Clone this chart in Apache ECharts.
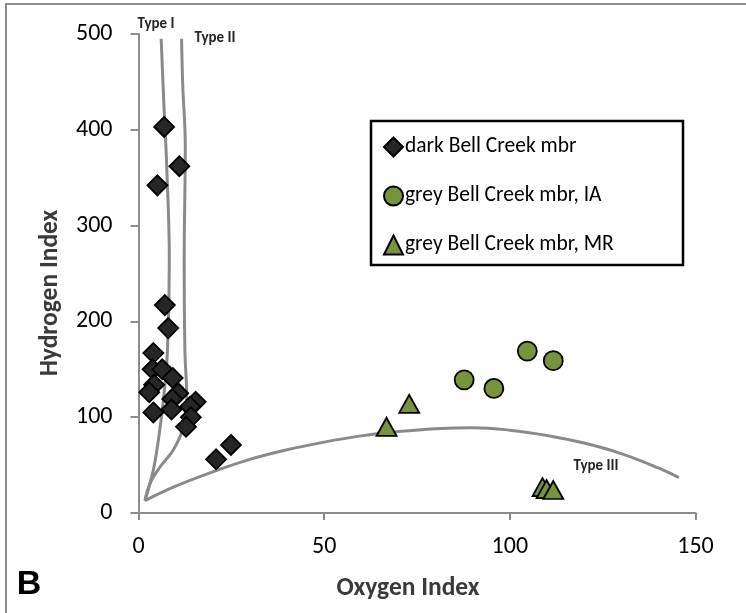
<!DOCTYPE html>
<html>
<head>
<meta charset="utf-8">
<script src="https://cdn.jsdelivr.net/npm/echarts@6/dist/echarts.min.js"></script>
<style>
  html, body { margin: 0; padding: 0; background: #fff; }
  #chart { width: 746px; height: 613px; }
</style>
</head>
<body>
<div id="chart"></div>
<script>
// Rock-Eval pyrolysis: hydrogen index vs oxygen index
const xTicks = [0, 50, 100, 150];
const yTicks = [0, 100, 200, 300, 400, 500];

const seriesNames = ['dark Bell Creek mbr', 'grey Bell Creek mbr, IA', 'grey Bell Creek mbr, MR'];

// [oxygen index, hydrogen index]
const darkBellCreek = [
  [6.9, 403], [11.0, 362], [5.1, 342], [7.1, 217], [8.0, 193],
  [4.0, 167], [3.8, 150], [6.4, 150], [9.2, 141], [4.2, 134],
  [2.9, 126], [10.7, 125], [9.1, 119], [8.9, 108], [4.0, 105],
  [15.4, 116], [13.9, 111], [14.1, 100], [12.8, 90], [24.9, 71],
  [20.9, 56]
];
const greyIA = [[87.7, 139], [95.7, 130], [104.7, 169], [111.7, 159]];
const greyMR = [[72.9, 114], [66.8, 90], [108.8, 27], [109.9, 25], [111.7, 24]];

// kerogen type reference curves
const typeI = [
  [1.75, 13], [4.0, 45], [5.6, 83], [6.7, 118], [7.8, 170],
  [8.3, 264], [7.6, 362], [6.9, 421], [6.1, 495]
];
const typeII = [
  [1.75, 13], [3.1, 31], [5.8, 48], [9.4, 66], [12.1, 90],
  [13.0, 118], [12.5, 170], [12.3, 264], [12.6, 382], [11.9, 448], [11.6, 495]
];
const typeIII = [
  [1.75, 13], [10, 28], [20, 43], [30, 56], [40, 66], [50, 74],
  [60, 80.5], [70, 85], [80, 88], [90, 89], [100, 86.5], [110, 81],
  [120, 73], [130, 62], [140, 47], [145.5, 37]
];

const FONT = 'Carlito, Lato, "Liberation Sans", sans-serif';
const AXIS_GREY = '#8c8c8c';
const CURVE_GREY = '#8a8a8a';
const GREEN = '#77933c';

const chart = echarts.init(document.getElementById('chart'), null, { renderer: 'canvas' });

function curve(name, data) {
  return {
    name: name,
    type: 'line',
    data: data,
    smooth: 0.4,
    symbol: 'none',
    silent: true,
    z: 1,
    lineStyle: { color: CURVE_GREY, width: 3 }
  };
}

function scatter(name, data, symbol, color, size) {
  return {
    name: name,
    type: 'scatter',
    data: data,
    symbol: symbol,
    symbolSize: size,
    z: 5,
    itemStyle: { color: color, borderColor: '#000', borderWidth: 1.8, opacity: 1 }
  };
}

function label(text, x, y, size) {
  return {
    type: 'text', silent: true, x: x, y: y, z: 10,
    style: {
      text: text, fontFamily: FONT, fontSize: size, fontWeight: 'bold',
      fill: '#262626', align: 'center', verticalAlign: 'middle'
    }
  };
}

function axisTitle(text, x, y, rotation) {
  return {
    type: 'text', silent: true, x: x, y: y, rotation: rotation,
    style: {
      text: text, fontFamily: FONT, fontSize: 25.5, fontWeight: 'bold',
      fill: '#3a3a3a', align: 'center', verticalAlign: 'middle'
    }
  };
}

chart.setOption({
  animation: false,
  backgroundColor: '#fff',
  grid: { left: 138.5, top: 34, width: 557, height: 479, containLabel: false },
  xAxis: {
    type: 'value',
    min: xTicks[0], max: xTicks[xTicks.length - 1], interval: 50,
    axisLine: { lineStyle: { color: AXIS_GREY, width: 2 } },
    axisTick: { show: true, inside: false, length: 7, lineStyle: { color: AXIS_GREY, width: 2 } },
    axisLabel: { margin: 22, fontFamily: FONT, fontSize: 24, color: '#000' },
    splitLine: { show: false }
  },
  yAxis: {
    type: 'value',
    min: yTicks[0], max: yTicks[yTicks.length - 1], interval: 100,
    axisLine: { show: true, lineStyle: { color: AXIS_GREY, width: 2 } },
    axisTick: { show: true, inside: false, length: 8, lineStyle: { color: AXIS_GREY, width: 2 } },
    axisLabel: { margin: 26, fontFamily: FONT, fontSize: 24, color: '#000' },
    splitLine: { show: false }
  },
  legend: {
    data: seriesNames,
    orient: 'vertical',
    left: 383, top: 136,
    itemWidth: 19, itemHeight: 19, itemGap: 27,
    padding: 0,
    selectedMode: false,
    textStyle: { fontFamily: FONT, fontSize: 21.5, lineHeight: 19, color: '#000', padding: [0, 0, 0, -3] }
  },
  graphic: [
    { type: 'rect', silent: true, z: 0,
      shape: { x: 6, y: 4, width: 900, height: 800 },
      style: { fill: 'none', stroke: '#8c8c8c', lineWidth: 2 } },
    { type: 'rect', silent: true, z: 10,
      shape: { x: 371, y: 121, width: 312, height: 144 },
      style: { fill: 'none', stroke: '#000', lineWidth: 2.5 } },
    axisTitle('Hydrogen Index', 51, 293, Math.PI / 2),
    axisTitle('Oxygen Index', 408, 589, 0),
    label('Type I', 156, 24, 15),
    label('Type II', 215, 38, 15),
    label('Type III', 596, 466, 15),
    { type: 'text', silent: true, x: 29, y: 585,
      style: { text: 'B', fontFamily: '"Liberation Sans", Arial, sans-serif', fontSize: 34,
               fontWeight: 'bold', fill: '#000', align: 'center', verticalAlign: 'middle' } }
  ],
  series: [
    curve('Type I', typeI),
    curve('Type II', typeII),
    curve('Type III', typeIII),
    scatter(seriesNames[0], darkBellCreek, 'diamond', '#262626', 20),
    scatter(seriesNames[1], greyIA, 'circle', GREEN, 19),
    scatter(seriesNames[2], greyMR, 'triangle', GREEN, [20, 18])
  ]
});
</script>
</body>
</html>
